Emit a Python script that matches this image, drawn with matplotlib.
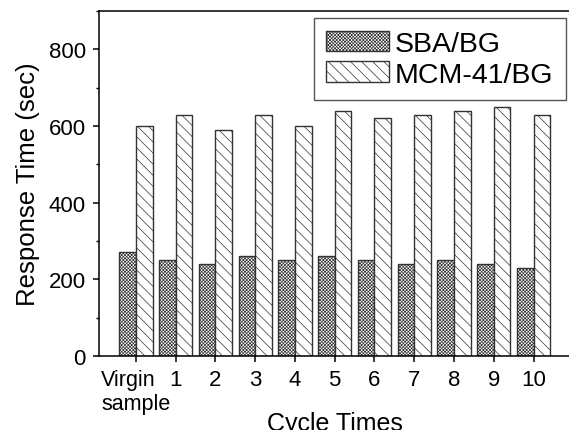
import matplotlib
matplotlib.use("Agg")
import matplotlib.pyplot as plt
import numpy as np
from matplotlib.ticker import MultipleLocator

plt.rcParams['font.family'] = ['Liberation Sans', 'DejaVu Sans']
plt.rcParams['hatch.linewidth'] = 0.5

# --- data ---
cycles = ["Virgin\nsample", "1", "2", "3", "4", "5", "6", "7", "8", "9", "10"]
sba_bg = [270, 250, 240, 260, 250, 260, 250, 240, 250, 240, 230]
mcm41_bg = [600, 630, 590, 630, 600, 640, 620, 630, 640, 650, 630]

x = np.arange(len(cycles))
w = 0.42

fig = plt.figure(figsize=(5.69, 4.31), dpi=100)
ax = fig.add_axes([0.174, 0.172, 0.83, 0.8])

ax.bar(x - w / 2, sba_bg, w, facecolor="white", edgecolor="#333333",
       hatch="xxxxxxxxxx", linewidth=1.0, label="SBA/BG")
ax.bar(x + w / 2, mcm41_bg, w, facecolor="white", edgecolor="#333333",
       hatch="\\\\\\", linewidth=1.0, label="MCM-41/BG")

ax.set_xlim(-0.93, 10.95)
ax.set_ylim(0, 900)
ax.set_xticks(x)
ax.set_xticklabels(cycles, multialignment="left")
ax.get_xticklabels()[0].set_fontsize(15.5)
ax.set_yticks([0, 200, 400, 600, 800])
ax.yaxis.set_minor_locator(MultipleLocator(100))

ax.spines["right"].set_visible(False)
for s in ["left", "bottom", "top"]:
    ax.spines[s].set_linewidth(1.1)
ax.tick_params(axis="both", which="major", direction="out", length=4.5,
               width=1.1, labelsize=16, pad=5)
ax.get_xticklabels()[0].set_fontsize(15.5)
ax.tick_params(axis="y", which="minor", direction="out", length=2.5, width=1.0)
ax.tick_params(top=False, right=False)

ax.set_xlabel("Cycle Times", fontsize=18, labelpad=-2)
ax.set_ylabel("Response Time (sec)", fontsize=18.5, labelpad=6)

leg = fig.legend(loc="upper right", bbox_to_anchor=(566 / 569, 1 - 19 / 431),
                 fontsize=20.5, fancybox=False, framealpha=1, edgecolor="#555555",
                 handlelength=2.2, handleheight=0.74, handletextpad=0.2,
                 borderpad=0.45, labelspacing=0.15, borderaxespad=0)
leg.get_frame().set_linewidth(1.0)

fig.savefig("out.png", dpi=100)
